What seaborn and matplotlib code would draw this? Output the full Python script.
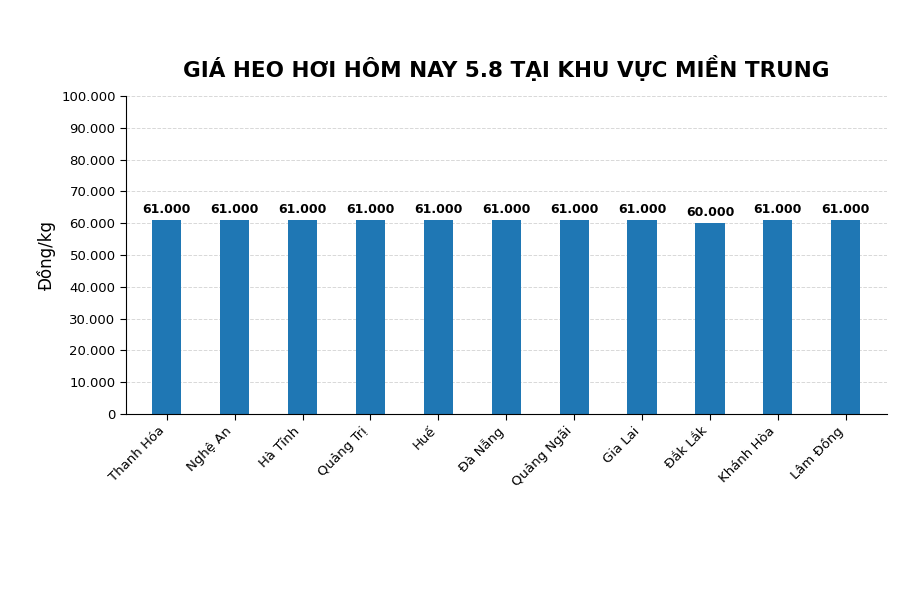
import matplotlib
matplotlib.use("Agg")
import matplotlib.pyplot as plt
import pandas as pd
import seaborn as sns

PROVINCES = ["Thanh Hóa", "Nghệ An", "Hà Tĩnh", "Quảng Trị", "Huế", "Đà Nẵng",
             "Quảng Ngãi", "Gia Lai", "Đắk Lắk", "Khánh Hòa", "Lâm Đồng"]
PRICES = [61000, 61000, 61000, 61000, 61000, 61000, 61000, 61000, 60000, 61000, 61000]
Y_TICKS = list(range(0, 100001, 10000))


def fmt(v):
    return f"{int(v):,}".replace(",", ".")


sns.set_style("white")
plt.rcParams["font.family"] = ["DejaVu Sans"]
plt.rcParams["text.color"] = "black"
plt.rcParams["axes.labelcolor"] = "black"
plt.rcParams["xtick.color"] = "black"
plt.rcParams["ytick.color"] = "black"

df = pd.DataFrame({"province": PROVINCES, "price": PRICES})
fig = plt.figure(figsize=(9, 6), dpi=100)
ax = fig.add_axes([0.14, 0.31, 0.845, 0.53])
sns.barplot(data=df, x="province", y="price", color="#1f77b4", saturation=1,
            width=0.43, edgecolor="none", linewidth=0, ax=ax)
for i, v in enumerate(PRICES):
    ax.text(i, v + 1200, fmt(v), ha="center", va="bottom", fontsize=9,
            fontweight="bold", color="black")

ax.set_ylim(0, 100000)
ax.set_xlim(-0.6, len(PROVINCES) - 0.4)
ax.set_yticks(Y_TICKS)
ax.set_yticklabels([fmt(t) for t in Y_TICKS], fontsize=9.5)
ax.set_xticks(range(len(PROVINCES)))
ax.set_xticklabels(PROVINCES, rotation=45, ha="right", fontsize=9.5)
ax.tick_params(axis="both", length=4, color="black", left=True, bottom=True)
ax.grid(axis="y", linestyle="--", color="#d8d8d8", linewidth=0.7)
ax.set_axisbelow(True)
for s in ("top", "right"):
    ax.spines[s].set_visible(False)
for s in ("left", "bottom"):
    ax.spines[s].set_color("black")
ax.set_xlabel("")
ax.set_ylabel("Đồng/kg", fontsize=12)
ax.set_title("GIÁ HEO HƠI HÔM NAY 5.8 TẠI KHU VỰC MIỀN TRUNG",
             fontsize=15.5, fontweight="bold", pad=14, color="black")
fig.savefig("out.png", dpi=100)
